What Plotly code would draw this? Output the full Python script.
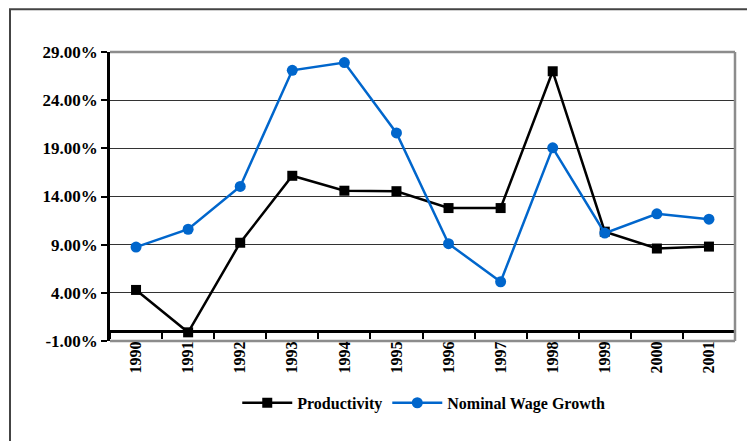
import plotly.graph_objects as go

years = ["1990", "1991", "1992", "1993", "1994", "1995", "1996", "1997", "1998", "1999", "2000", "2001"]
productivity = [4.3, -0.1, 9.2, 16.15, 14.6, 14.55, 12.8, 12.8, 27.0, 10.35, 8.6, 8.8]
wage_growth = [8.75, 10.6, 15.05, 27.1, 27.9, 20.6, 9.1, 5.15, 19.05, 10.2, 12.2, 11.65]
y_ticks = [-1, 4, 9, 14, 19, 24, 29]
y_tick_text = [f"{v:.2f}%" for v in y_ticks]

FONT = "Times New Roman"

fig = go.Figure()
fig.add_trace(go.Scatter(
    x=years, y=productivity, name="Productivity", mode="lines+markers",
    line=dict(color="#000000", width=2.5),
    marker=dict(symbol="square", size=10, color="#000000"),
))
fig.add_trace(go.Scatter(
    x=years, y=wage_growth, name="Nominal Wage Growth", mode="lines+markers",
    line=dict(color="#0066CC", width=2.5),
    marker=dict(symbol="circle", size=11, color="#0066CC"),
))

fig.update_layout(
    width=747, height=433,
    margin=dict(l=102, r=20, t=44, b=100),
    paper_bgcolor="white", plot_bgcolor="white",
    font=dict(family=FONT, size=15, color="#000000"),
    showlegend=True,
    legend=dict(orientation="h", x=0.502, xanchor="center", y=-0.214, yanchor="middle",
                font=dict(family=FONT, size=16, color="#000000", weight="bold"),
                bgcolor="rgba(0,0,0,0)", itemwidth=50, tracegroupgap=0),
    xaxis=dict(
        type="category", anchor="free", position=1/30,
        showline=True, linecolor="#000000", linewidth=2.5,
        ticks="outside", ticklen=6, tickwidth=2, tickcolor="#000000",
        tickson="boundaries", tickangle=-90, ticklabelstandoff=2,
        tickfont=dict(family=FONT, size=16, color="#000000", weight="bold"),
        showgrid=False, zeroline=False,
        range=[-0.5, 11.5],
    ),
    yaxis=dict(
        range=[-1, 29], tickmode="array", tickvals=y_ticks, ticktext=y_tick_text,
        showline=True, linecolor="#000000", linewidth=2.5,
        ticks="outside", ticklen=6, tickwidth=2, tickcolor="#000000",
        tickfont=dict(family=FONT, size=17, color="#000000", weight="bold"),
        showgrid=True, gridcolor="#333333", gridwidth=1,
        zeroline=False,
    ),
    shapes=[
        dict(type="line", xref="paper", yref="paper", x0=0, x1=1, y0=1, y1=1,
             line=dict(color="#8c8c8c", width=2.5), layer="above"),
        dict(type="line", xref="paper", yref="paper", x0=1, x1=1, y0=0, y1=1,
             line=dict(color="#8c8c8c", width=2.5), layer="above"),
        dict(type="line", xref="paper", yref="paper", x0=0, x1=1, y0=0, y1=0,
             line=dict(color="#8c8c8c", width=2.5), layer="below"),
        dict(type="rect", xref="paper", yref="paper", x0=-0.16, x1=1.05, y0=-0.4, y1=1.148,
             line=dict(color="#444444", width=2), fillcolor="rgba(0,0,0,0)"),
    ],
)

fig.write_html("out.html")
